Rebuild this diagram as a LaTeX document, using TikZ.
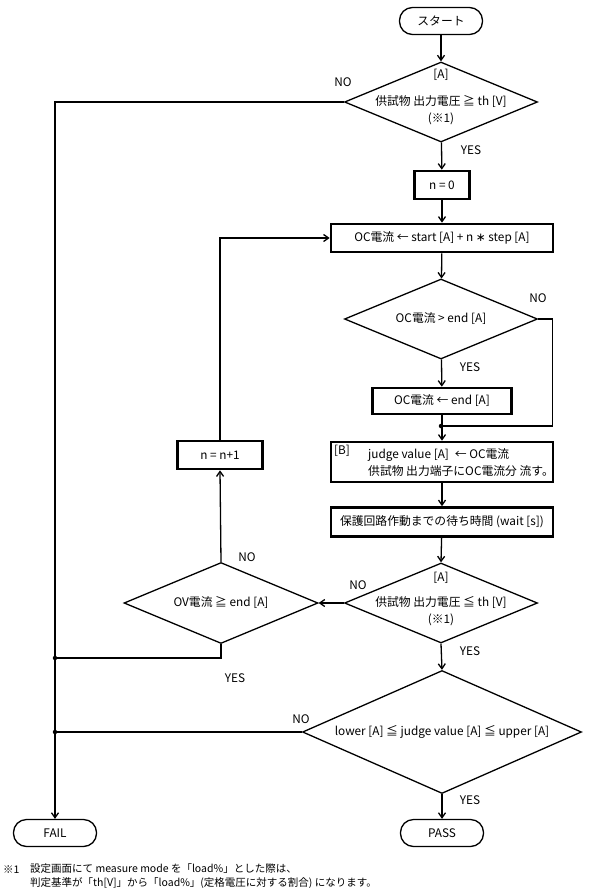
\documentclass[tikz,border=0pt]{standalone}
\usepackage{fontspec}
\setmainfont{Noto Sans CJK JP}
\newfontfamily\symfont{DejaVu Sans}
\usepackage{tikz}
\usetikzlibrary{arrows.meta,positioning,calc,shapes.geometric}
\tikzset{
  term/.style={rectangle, rounded corners=13pt, draw, line width=1.3pt,
               minimum width=83pt, minimum height=27pt, inner sep=0pt},
  procbox/.style={rectangle, draw, line width=2.6pt, minimum height=28pt, inner sep=2pt},
  decide/.style={diamond, draw, line width=1.3pt, inner sep=0pt},
  txt/.style={inner sep=0pt, align=center},
  lbl/.style={inner sep=0pt},
  arr/.style={-{Straight Barb[length=5pt,width=7pt,line width=1.3pt]}, line width=1.3pt},
  wire/.style={line width=1.3pt},
  dot/.style={circle, fill, inner sep=0pt, minimum size=4.5pt},
}

\begin{document}
\begin{tikzpicture}[x=1pt, y=-1pt, font=\fontsize{11.8pt}{17pt}\selectfont]
    \useasboundingbox (0,0) rectangle (593,895);
    % main column
    \node[term] (start) at (441,21) {スタート};
    \node[decide, minimum width=193pt, minimum height=80pt] (d1) at (441,102) {};
    \node[lbl] (d1a) at (441,75) {[A]};
    \node[txt] (d1t) at (441,110) {供試物 出力電圧 ≧ th [V]\\(※1)};
    \node[procbox, minimum width=55pt] (n0) at (442,185) {n = 0};
    \node[procbox, minimum width=222pt] (oc1) at (442,238) {OC電流 ← start [A] + n {\symfont ∗} step [A]};
    \node[decide, minimum width=193pt, minimum height=80pt] (d2) at (441,319) {};
    \node[txt] (d2t) at (441,319) {OC電流 > end [A]};
    \node[procbox, minimum width=139pt, minimum height=26pt] (ocend) at (442,401) {OC電流 ← end [A]};
    \node[procbox, minimum width=222pt, minimum height=40pt] (bbox) at (442,462) {};
    \node[lbl, anchor=west] (bl) at (334,451) {[B]};
    \node[txt, align=left, anchor=west] (bt) at (368,463)
      {judge value [A]\enspace← OC電流\\供試物 出力端子にOC電流分 流す。};
    \node[procbox, minimum width=222pt, minimum height=29pt] (wait) at (442,522)
      {保護回路作動までの待ち時間 (wait [s])};
    \node[decide, minimum width=193pt, minimum height=80pt] (d3) at (441,603) {};
    \node[lbl] (d3a) at (441,578) {[A]};
    \node[txt] (d3t) at (441,611) {供試物 出力電圧 ≦ th [V]\\(※1)};
    \node[decide, minimum width=279pt, minimum height=123pt] (d5) at (442,732) {};
    \node[txt] (d5t) at (442,732) {lower [A] ≦ judge value [A] ≦ upper [A]};
    \node[term] (pass) at (442,833) {PASS};
    % loop side
    \node[decide, minimum width=194pt, minimum height=81pt] (d4) at (221,603) {};
    \node[txt] (d4t) at (221,603) {OV電流 ≧ end [A]};
    \node[procbox, minimum width=85pt] (nn1) at (220,455) {n = n+1};
    \node[term] (fail) at (55,833) {FAIL};
    % junctions
    \coordinate (j1) at (441,426);
    \coordinate (j2) at (fail.north |- 0,658);
    \coordinate (j3) at (fail.north |- d5.west);
    \node[dot] at (j1) {}; \node[dot] at (j2) {}; \node[dot] at (j3) {};
    % connectors
    \draw[arr] (start) -- (d1);
    \draw[arr] (d1) -- (n0); \draw[arr] (n0) -- (oc1);
    \draw[arr] (d1.west) -| (fail.north);
    \draw[arr] (oc1) -- (d2); \draw[arr] (d2) -- (ocend);
    \draw[wire] (d2.east) -- ++(14,0) |- (j1);
    \draw[arr] (ocend.south) -- (bbox.north);
    \draw[arr] (bbox) -- (wait); \draw[arr] (wait) -- (d3.north);
    \draw[arr] (d3.west) -- (d4.east);
    \draw[arr] (d4.north) -- (nn1.south);
    \draw[arr] (nn1.north) |- (oc1.west);
    \draw[wire] (d4.south) |- (j2);
    \draw[arr] (d3.south) -- (d5.north);
    \draw[wire] (d5.west) -- (j3);
    \draw[arr] (d5.south) -- (pass.north);
    % labels
    \node[lbl] (no1) at (343,82) {NO};
    \node[lbl] (yes1) at (471,150) {YES};
    \node[lbl] (no2) at (538,298) {NO};
    \node[lbl] (yes2) at (470,367) {YES};
    \node[lbl] (no3) at (358,585) {NO};
    \node[lbl] (no4) at (247,557) {NO};
    \node[lbl] (yes4) at (235,678) {YES};
    \node[lbl] (yes3) at (470,651) {YES};
    \node[lbl] (no5) at (301,719) {NO};
    \node[lbl] (yes5) at (470,800) {YES};
    % footnote
    \node[lbl, anchor=west, font=\fontsize{10.5pt}{14pt}\selectfont] (fnm) at (3,870) {※1};
    \node[txt, align=left, anchor=north west, font=\fontsize{10.5pt}{14pt}\selectfont] (fnt) at (30,863)
      {設定画面にて measure mode を「load\%」とした際は、\\判定基準が「th[V]」から「load\%」(定格電圧に対する割合) になります。};
\end{tikzpicture}
\end{document}
